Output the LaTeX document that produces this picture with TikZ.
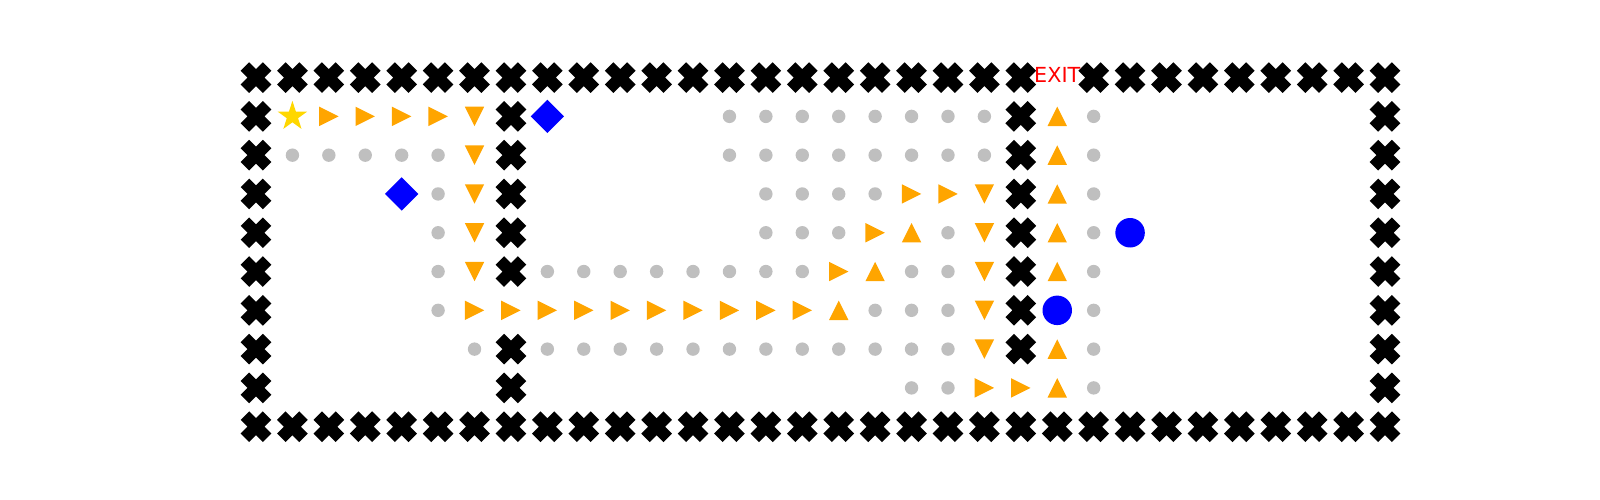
\documentclass[tikz,border=0pt]{standalone}
\usepackage{fontspec}
\setsansfont{DejaVu Sans}
\usetikzlibrary{shapes.misc,shapes.geometric}

\definecolor{pathorange}{HTML}{FFA500}
\definecolor{cellgray}{HTML}{BFBFBF}
\definecolor{startgold}{HTML}{FFD700}

\tikzset{
    wallmark/.style={cross out, draw=black, line width=0.12cm, minimum size=0.222cm, inner sep=0pt, outer sep=0pt},
    cellmark/.style={circle, fill=cellgray, minimum size=0.134cm, inner sep=0pt},
    goalmark/.style={circle, fill=blue, minimum size=0.295cm, inner sep=0pt},
    gemmark/.style={diamond, fill=blue, minimum size=0.34cm, inner sep=0pt},
    startmark/.style={star, star points=5, star point ratio=2.618, fill=startgold, minimum size=0.31cm, inner sep=0pt},
}

\begin{document}
\begin{tikzpicture}[x=0.3642cm, y=-0.3879cm]
    % --- Parameters ---
    \def\h{0.097cm}   % half size of a step triangle

    % --- Frame of the picture ---
    \useasboundingbox (-2.56cm, 0.776cm) rectangle (13.44cm, -4.224cm);

    % --- Outer walls ---
    \foreach \c in {0,...,21} \node[wallmark] (wall-\c-0) at (\c,0) {};
    \foreach \c in {23,...,31} \node[wallmark] (wall-\c-0) at (\c,0) {};
    \foreach \c in {0,...,31} \node[wallmark] (wall-\c-9) at (\c,9) {};
    \foreach \r in {1,...,8} {
        \node[wallmark] (wall-0-\r) at (0,\r) {};
        \node[wallmark] (wall-31-\r) at (31,\r) {};
    }

    % --- Inner walls ---
    \foreach \r in {1,2,3,4,5,7,8} \node[wallmark] (wall-7-\r) at (7,\r) {};
    \foreach \r in {1,...,7} \node[wallmark] (wall-21-\r) at (21,\r) {};

    % --- Exit label ---
    \node[text=red, font=\sffamily\fontsize{5.9}{7}\selectfont, inner sep=0pt, yshift=0.022cm] (exit) at (22,0) {EXIT};

    % --- Free cells (row/first col/last col) ---
    \foreach \r/\a/\b in {1/13/20, 2/1/5, 2/13/20, 3/5/5, 3/14/17, 4/5/5, 4/14/16, 4/19/19,
                          5/5/5, 5/8/15, 5/18/19, 6/5/5, 6/17/19, 7/6/6, 7/8/19, 8/18/19}
        \foreach \c in {\a,...,\b} \node[cellmark] (cell-\c-\r) at (\c,\r) {};
    \foreach \r in {1,...,8} \node[cellmark] (cell-23-\r) at (23,\r) {};

    % --- Path steps ---
    % right
    \foreach \c/\r in {2/1, 3/1, 4/1, 5/1, 18/3, 19/3, 17/4, 16/5, 6/6, 7/6, 8/6, 9/6, 10/6,
                       11/6, 12/6, 13/6, 14/6, 15/6, 20/8, 21/8}
        \fill[pathorange] (\c,\r) +(\h,0cm) -- +(-\h,\h) -- +(-\h,-\h) -- cycle;
    % down
    \foreach \c/\r in {6/1, 6/2, 6/3, 6/4, 6/5, 20/3, 20/4, 20/5, 20/6, 20/7}
        \fill[pathorange] (\c,\r) +(0cm,-\h) -- +(-\h,\h) -- +(\h,\h) -- cycle;
    % up
    \foreach \c/\r in {18/4, 17/5, 16/6, 22/1, 22/2, 22/3, 22/4, 22/5, 22/7, 22/8}
        \fill[pathorange] (\c,\r) +(0cm,\h) -- +(-\h,-\h) -- +(\h,-\h) -- cycle;

    % --- Start, gems and goals ---
    \node[startmark] (start) at (1,1) {};
    \node[gemmark] (gem-a) at (8,1) {};
    \node[gemmark] (gem-b) at (4,3) {};
    \node[goalmark] (goal-a) at (24,4) {};
    \node[goalmark] (goal-b) at (22,6) {};
\end{tikzpicture}
\end{document}
